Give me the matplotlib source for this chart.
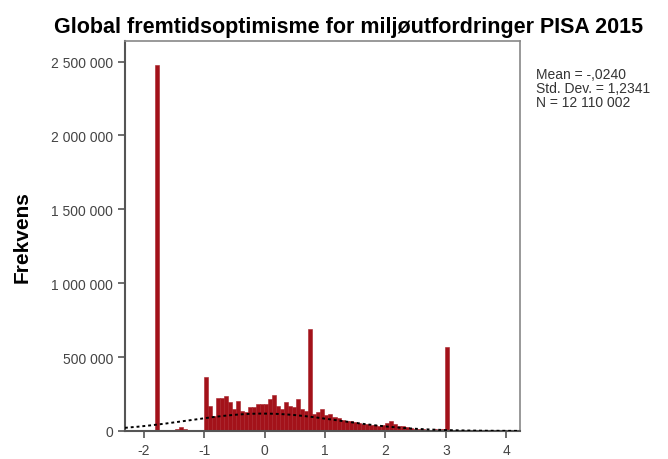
import numpy as np
import matplotlib
matplotlib.use("Agg")
from matplotlib import pyplot as plt

plt.rcParams['font.family'] = ['Liberation Sans', 'DejaVu Sans']

# histogram counts, bins of width 1/15 starting at -1.81
bin_start = -1.81
bin_width = 1 / 15
counts = [2480000, 5000, 8000, 8000, 5000, 12000, 30000, 10000, 5000, 3000, 3000, 5000,
          366000, 170000, 100000, 224000, 224000, 237000, 196000, 150000, 200000, 135000,
          128000, 162000, 162000, 183000, 183000, 183000, 215000, 245000, 170000, 150000,
          196000, 170000, 162000, 217000, 150000, 135000, 691000, 115000, 130000, 150000,
          108000, 115000, 95000, 85000, 75000, 68000, 65000, 58000, 52000, 50000, 45000,
          42000, 38000, 35000, 40000, 55000, 65000, 45000, 34000, 34000, 30000, 18000,
          12000, 10000, 10000, 8000, 8000, 10000, 8000, 12000, 569000]

mean = -0.0240
sd = 1.2341
n = 12110002
curve_width = 0.03  # scale of the fitted normal curve

title = "Global fremtidsoptimisme for miljøutfordringer PISA 2015"
yticks = [0, 500000, 1000000, 1500000, 2000000, 2500000]
xticks = [-2, -1, 0, 1, 2, 3, 4]

fig = plt.figure(figsize=(6.68, 4.60), dpi=100)
ax = fig.add_axes([0.187, 0.061, 0.591, 0.848])

lefts = bin_start + np.arange(len(counts)) * bin_width
ax.bar(lefts, counts, width=bin_width, align='edge', color='#A3121A',
       edgecolor='#A82028', linewidth=0.4, zorder=2)

xs = np.linspace(-2.31, 4.22, 300)
ys = n * curve_width * np.exp(-0.5 * ((xs - mean) / sd) ** 2) / (sd * np.sqrt(2 * np.pi))
ax.plot(xs, ys, color='black', linestyle=(0, (1.5, 1.5)), linewidth=1.4, zorder=3)

ax.set_xlim(-2.31, 4.22)
ax.set_ylim(0, 2640000)
ax.set_xticks(xticks)
ax.set_xticklabels([str(t) for t in xticks])
ax.set_yticks(yticks)
ax.set_yticklabels([f"{t:,}".replace(",", " ") for t in yticks])
ax.tick_params(direction='out', length=5, width=1.2, color='#555555',
               labelcolor='#444444', labelsize=10)
for side in ['left', 'bottom']:
    ax.spines[side].set_color('#555555')
    ax.spines[side].set_linewidth(1.5)
for side in ['top', 'right']:
    ax.spines[side].set_color('#888888')
    ax.spines[side].set_linewidth(1.2)

ax.set_ylabel("Frekvens", fontsize=15, fontweight='bold', labelpad=14)
fig.text(0.522, 0.94, title, ha='center', va='center', fontsize=15.5, fontweight='bold')

fig.text(0.803, 0.853, "Mean = -,0240\nStd. Dev. = 1,2341\nN = 12 110 002",
         ha='left', va='top', fontsize=10, color='#333333', linespacing=1.0)

fig.savefig("out.png", dpi=100)
